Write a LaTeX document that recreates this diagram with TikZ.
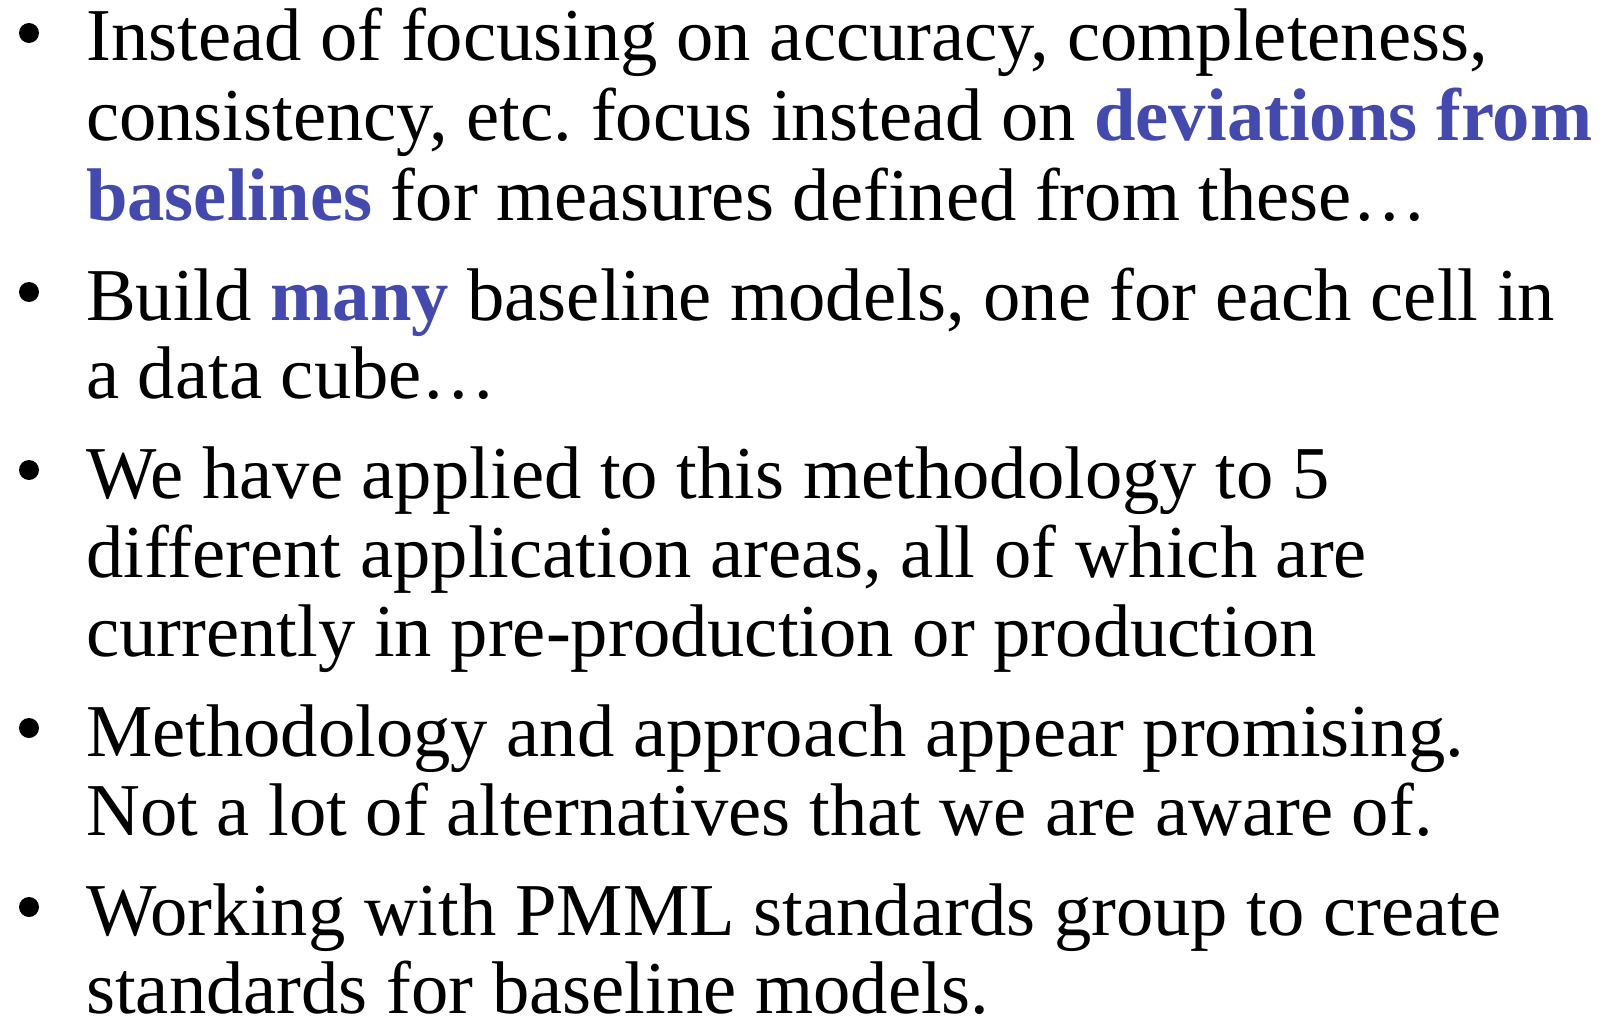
\documentclass[tikz,border=0pt]{standalone}
\usepackage{fontspec}
\setmainfont{Liberation Serif}
\usetikzlibrary{positioning}
\definecolor{slideblue}{HTML}{4349AD}

\begin{document}
\frenchspacing
\begin{tikzpicture}[x=1pt, y=-1pt]
\tikzset{line/.style={anchor=base west, inner sep=0pt, font=\fontsize{74.6}{79}\selectfont}}
\tikzset{dot/.style={circle, fill=black, minimum size=20pt, inner sep=0pt}}
\newcommand{\hl}[1]{\textcolor{slideblue}{\textbf{#1}}}

\useasboundingbox (0,0) rectangle (1606,1022);

% first point
\node (dotA) [dot] at (29,33) {};
\node (lineA1) [line] at (86,61) {Instead of focusing on accuracy, completeness,};
\node (lineA2) [line] at (86,140) {consistency, etc. focus instead on \hl{deviations from}};
\node (lineA3) [line] at (86,220) {\hl{baselines} for measures defined from these\ldots};

% second point
\node (dotB) [dot] at (29,292) {};
\node (lineB1) [line] at (86,320) {Build \hl{many} baseline models, one for each cell in};
\node (lineB2) [line] at (86,398) {a data cube\ldots};

% third point
\node (dotC) [dot] at (29,470) {};
\node (lineC1) [line] at (86,498) {We have applied to this methodology to 5};
\node (lineC2) [line] at (86,577) {different application areas, all of which are};
\node (lineC3) [line] at (86,656) {currently in pre-production or production};

% fourth point
\node (dotD) [dot] at (29,728) {};
\node (lineD1) [line] at (86,756) {Methodology and approach appear promising.};
\node (lineD2) [line] at (86,835) {Not a lot of alternatives that we are aware of.};

% fifth point
\node (dotE) [dot] at (29,907) {};
\node (lineE1) [line] at (86,935) {Working with PMML standards group to create};
\node (lineE2) [line] at (86,1013) {standards for baseline models.};

\end{tikzpicture}
\end{document}
